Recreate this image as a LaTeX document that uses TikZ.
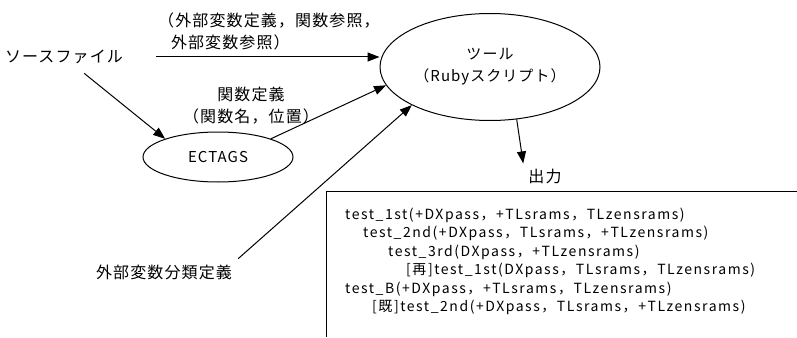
\documentclass[tikz,border=0pt]{standalone}
\usepackage{fontspec}
\setmainfont{Noto Sans CJK JP}
\newfontfamily\jpfont[LetterSpace=7]{Noto Sans CJK JP}
\newfontfamily\codefont[LetterSpace=11]{Noto Sans CJK JP}
\usetikzlibrary{shapes.geometric, arrows.meta, positioning}

\begin{document}
\begin{tikzpicture}[x=1pt, y=-1pt,
    proc/.style={draw, ellipse, line width=1pt, inner sep=0pt,
                 font=\jpfont\fontsize{15}{22}\selectfont, align=center},
    txt/.style={inner sep=3pt, font=\jpfont\fontsize{16}{22}\selectfont},
    flow/.style={line width=1pt, -{Triangle[length=12pt, width=9pt]}},
    code/.style={anchor=base west, inner sep=0pt, font=\codefont\fontsize{14}{16}\selectfont}
]
    \useasboundingbox (0,0) rectangle (797,337);

    \node[proc, minimum width=220pt, minimum height=107pt] (tool) at (490,67)
        {ツール\\（Rubyスクリプト）};
    \node[proc, minimum width=150pt, minimum height=50pt] (ectags) at (218,157) {ECTAGS};

    \node[txt] (src) at (64,57) {ソースファイル};
    \node[txt] (extdef) at (164,272) {外部変数分類定義};
    \node[txt, inner sep=5pt] (out) at (545,176) {出力};

    \node[txt, anchor=west, align=left] (refs) at (155,31)
        {（外部変数定義，関数参照，\\\hspace*{0.8em}外部変数参照）};
    \node[txt, align=center] (fdef) at (251,106) {関数定義\\（関数名，位置）};

    \draw[flow] ([xshift=30pt]src.east) -- (src.east -| tool.west);
    \draw[flow, shorten <=10pt] (src) -- (ectags.161);
    \draw[flow] (ectags.19) -- (tool.190);
    \draw[flow, shorten <=4pt] (extdef.north east) -- (tool.206);
    \draw[flow] (tool.297) -- (out.north west);

    % result listing
    \draw[line width=1pt] (797,191) -- (326,191) -- (326,337);
    \node[code] (l1) at (345,219)   {test\_1st(+DXpass，+TLsrams，TLzensrams)};
    \node[code] (l2) at (363,237.5) {test\_2nd(+DXpass，TLsrams，+TLzensrams)};
    \node[code] (l3) at (388,256)   {test\_3rd(DXpass，+TLzensrams)};
    \node[code] (l4) at (406,274.5) {[再]test\_1st(DXpass，TLsrams，TLzensrams)};
    \node[code] (l5) at (345,293)   {test\_B(+DXpass，+TLsrams，TLzensrams)};
    \node[code] (l6) at (372,311.5) {[既]test\_2nd(+DXpass，TLsrams，+TLzensrams)};
\end{tikzpicture}
\end{document}
